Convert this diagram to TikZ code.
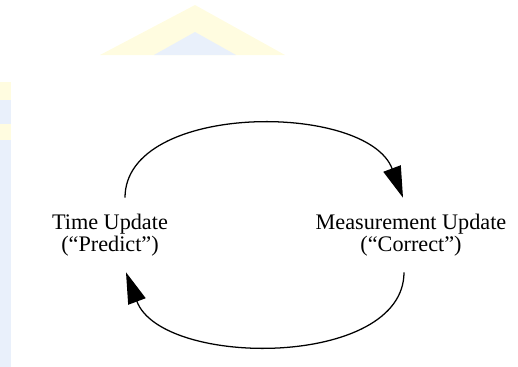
\documentclass[tikz,border=0pt]{standalone}
\usepackage{fontspec}
\setmainfont{Liberation Serif}
\usepackage{tikz}
\usetikzlibrary{positioning, arrows.meta}
\definecolor{wmyellow}{RGB}{255,252,224}
\definecolor{wmblue}{RGB}{233,240,251}
\tikzset{
  phase/.style={rectangle, align=center, minimum height=1.85cm, inner sep=0pt, font=\fontsize{15.8}{15.8}\selectfont},
  loop/.style={line width=0.9pt, -{Triangle[length=0.78cm, width=0.46cm]}}
}
\begin{document}
\begin{tikzpicture}
  \useasboundingbox (0,0) rectangle (12.95,-9.175);
  % faint watermark
  \fill[wmyellow] (2.5,-1.375) -- (4.875,-0.125) -- (7.125,-1.375) -- cycle;
  \fill[wmblue] (3.85,-1.375) -- (4.875,-0.8) -- (5.9,-1.375) -- cycle;
  \fill[wmblue] (0,-2.05) rectangle (0.28,-9.175);
  \fill[wmyellow] (0,-2.05) rectangle (0.28,-2.5);
  \fill[wmyellow] (0,-3.1) rectangle (0.28,-3.5);

  \node[phase] (TU) at (2.75,-5.875) {Time Update\\(“Predict”)};
  \node[phase] (MU) at (10.275,-5.875) {Measurement Update\\(“Correct”)};

  \draw[loop] ([xshift=0.375cm]TU.north) .. controls +(0,2.4) and +(-0.9,2.4) .. ([xshift=-0.2cm]MU.north);
  \draw[loop] ([xshift=-0.175cm]MU.south) .. controls +(0,-2.4) and +(0.9,-2.4) .. ([xshift=0.4cm]TU.south);
\end{tikzpicture}
\end{document}
